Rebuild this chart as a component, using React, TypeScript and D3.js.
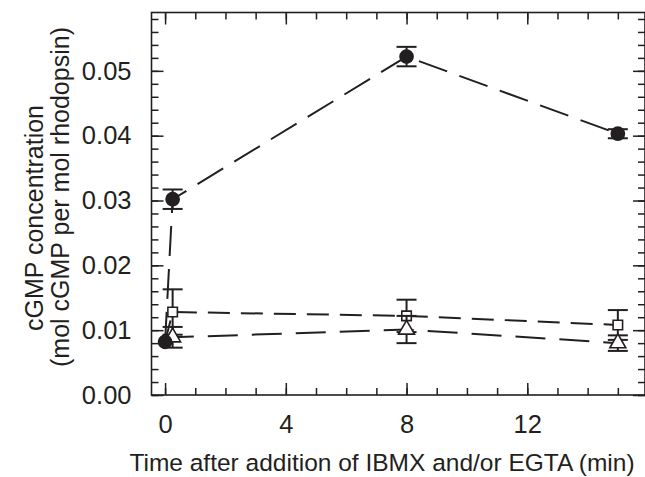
import * as d3 from 'd3';
import React, { useRef, useEffect, useCallback } from 'react';

// time points (min)
const times = [0, 0.25, 8, 15];

// cGMP (mol per mol rhodopsin); first point is the shared control at t = 0
const ibmxEgta = [0.0082, 0.0302, 0.0522, 0.0403];
const ibmxEgtaErr = [0, 0.0015, 0.0015, 0.0007];
const ibmxOnly = [0.0082, 0.0128, 0.0122, 0.0108];
const ibmxOnlyErr = [0, 0.0035, 0.0025, 0.0023];
const egtaOnly = [0.0082, 0.0089, 0.0101, 0.008];
const egtaOnlyErr = [0, 0.0016, 0.0021, 0.0012];

const xMajor = [0, 4, 8, 12];
const xMinor = d3.range(0, 16, 1);
const yMajor = [0, 0.01, 0.02, 0.03, 0.04, 0.05];
const yMinor = d3.range(0, 0.059, 0.002);

const FONT = '"Liberation Sans", Arial, Helvetica, sans-serif';
const INK = '#231f20';

function CgmpChart({ width, height }) {
    const ref = useRef();

    const draw = useCallback(() => {
        d3.select(ref.current).selectAll('*').remove();
        const svg = d3.select(ref.current).attr('viewBox', [0, 0, width, height]);

        const margin = { top: 12.5, right: 0, bottom: 82, left: 151.5 };

        const x = d3.scaleLinear()
            .domain([-0.45, 15.9])
            .range([margin.left, width - margin.right]);
        const y = d3.scaleLinear()
            .domain([0, 0.059])
            .range([height - margin.bottom, margin.top]);

        const [x0, x1] = x.range();
        const [y0, y1] = y.range();

        const fmt = d3.format('.2f');

        const styleAxis = g => {
            g.select('.domain').remove();
            g.selectAll('line').attr('stroke', INK).attr('stroke-width', 1.5);
            g.selectAll('text').attr('fill', INK).attr('font-size', 25.5).attr('font-family', FONT);
        };

        // bottom
        svg.append('g').attr('transform', `translate(0,${y0})`)
            .call(d3.axisBottom(x).tickValues(xMinor).tickSizeInner(-7).tickSizeOuter(0).tickFormat(() => ''))
            .call(styleAxis);
        svg.append('g').attr('transform', `translate(0,${y0})`)
            .call(d3.axisBottom(x).tickValues(xMajor).tickSizeInner(-12).tickSizeOuter(0).tickPadding(20).tickFormat(d3.format('d')))
            .call(styleAxis);
        // top
        svg.append('g').attr('transform', `translate(0,${y1})`)
            .call(d3.axisTop(x).tickValues(xMinor).tickSizeInner(-7).tickSizeOuter(0).tickFormat(() => ''))
            .call(styleAxis);
        svg.append('g').attr('transform', `translate(0,${y1})`)
            .call(d3.axisTop(x).tickValues(xMajor).tickSizeInner(-12).tickSizeOuter(0).tickFormat(() => ''))
            .call(styleAxis);
        // left
        svg.append('g').attr('transform', `translate(${x0},0)`)
            .call(d3.axisLeft(y).tickValues(yMinor).tickSizeInner(-7).tickSizeOuter(0).tickFormat(() => ''))
            .call(styleAxis);
        svg.append('g').attr('transform', `translate(${x0},0)`)
            .call(d3.axisLeft(y).tickValues(yMajor).tickSizeInner(-12).tickSizeOuter(0).tickPadding(20).tickFormat(fmt))
            .call(styleAxis);
        // right
        svg.append('g').attr('transform', `translate(${x1},0)`)
            .call(d3.axisRight(y).tickValues(yMinor).tickSizeInner(-7).tickSizeOuter(0).tickFormat(() => ''))
            .call(styleAxis);
        svg.append('g').attr('transform', `translate(${x1},0)`)
            .call(d3.axisRight(y).tickValues(yMajor).tickSizeInner(-12).tickSizeOuter(0).tickFormat(() => ''))
            .call(styleAxis);

        // frame
        svg.append('rect')
            .attr('x', x0).attr('y', y1)
            .attr('width', x1 - x0).attr('height', y0 - y1)
            .attr('fill', 'none').attr('stroke', INK).attr('stroke-width', 1.6);

        const series = [
            { name: 'IBMX', values: ibmxOnly, err: ibmxOnlyErr, shape: 'square', dash: '22,11' },
            { name: 'EGTA', values: egtaOnly, err: egtaOnlyErr, shape: 'triangle', dash: '30,14' },
            { name: 'IBMX + EGTA', values: ibmxEgta, err: ibmxEgtaErr, shape: 'circle', dash: '30,13' },
        ];

        const line = d3.line().x(d => x(d.t)).y(d => y(d.v));

        series.forEach(s => {
            const pts = times.map((t, i) => ({ t, v: s.values[i], e: s.err[i], i }));
            const g = svg.append('g');

            g.append('path')
                .datum(pts)
                .attr('d', line)
                .attr('fill', 'none')
                .attr('stroke', INK)
                .attr('stroke-width', 2)
                .attr('stroke-dasharray', s.dash);

            const withErr = pts.filter(d => d.e > 0);
            g.selectAll('line.bar')
                .data(withErr)
                .join('line')
                .attr('x1', d => x(d.t)).attr('x2', d => x(d.t))
                .attr('y1', d => y(d.v - d.e)).attr('y2', d => y(d.v + d.e))
                .attr('stroke', INK).attr('stroke-width', 2);
            [-1, 1].forEach(sign => {
                g.selectAll(null)
                    .data(withErr)
                    .join('line')
                    .attr('x1', d => x(d.t) - 10).attr('x2', d => x(d.t) + 10)
                    .attr('y1', d => y(d.v + sign * d.e)).attr('y2', d => y(d.v + sign * d.e))
                    .attr('stroke', INK).attr('stroke-width', 2);
            });

            const marks = s.shape === 'circle' ? pts : pts.filter(d => d.i > 0);
            const sym = s.shape === 'circle'
                ? d3.symbol(d3.symbolCircle, 170)
                : s.shape === 'square'
                    ? d3.symbol(d3.symbolSquare, 90)
                    : d3.symbol(d3.symbolTriangle, 110);
            g.selectAll('path.mark')
                .data(marks)
                .join('path')
                .attr('transform', d => `translate(${x(d.t)},${y(d.v)})`)
                .attr('d', sym)
                .attr('fill', s.shape === 'circle' ? INK : '#fff')
                .attr('stroke', INK)
                .attr('stroke-width', s.shape === 'circle' ? 0 : 1.6);
        });

        // axis titles
        svg.append('text')
            .attr('x', 382).attr('y', 471)
            .attr('text-anchor', 'middle')
            .attr('font-family', FONT).attr('font-size', 24.5).attr('fill', INK)
            .text('Time after addition of IBMX and/or EGTA (min)');

        svg.append('text')
            .attr('transform', 'translate(43,218) rotate(-90)')
            .attr('text-anchor', 'middle')
            .attr('font-family', FONT).attr('font-size', 25).attr('fill', INK)
            .text('cGMP concentration');
        svg.append('text')
            .attr('transform', 'translate(69,197) rotate(-90)')
            .attr('text-anchor', 'middle')
            .attr('font-family', FONT).attr('font-size', 25).attr('fill', INK)
            .text('(mol cGMP per mol rhodopsin)');
    }, [width, height]);

    useEffect(() => {
        draw();
    }, [draw]);

    return (
        <svg
            ref={ref}
            width={width}
            height={height}
            style={{ position: 'absolute', left: 0, top: 0, background: '#fff' }}
        />
    );
}

export default function App() {
    return <CgmpChart width={645} height={477} />;
}
